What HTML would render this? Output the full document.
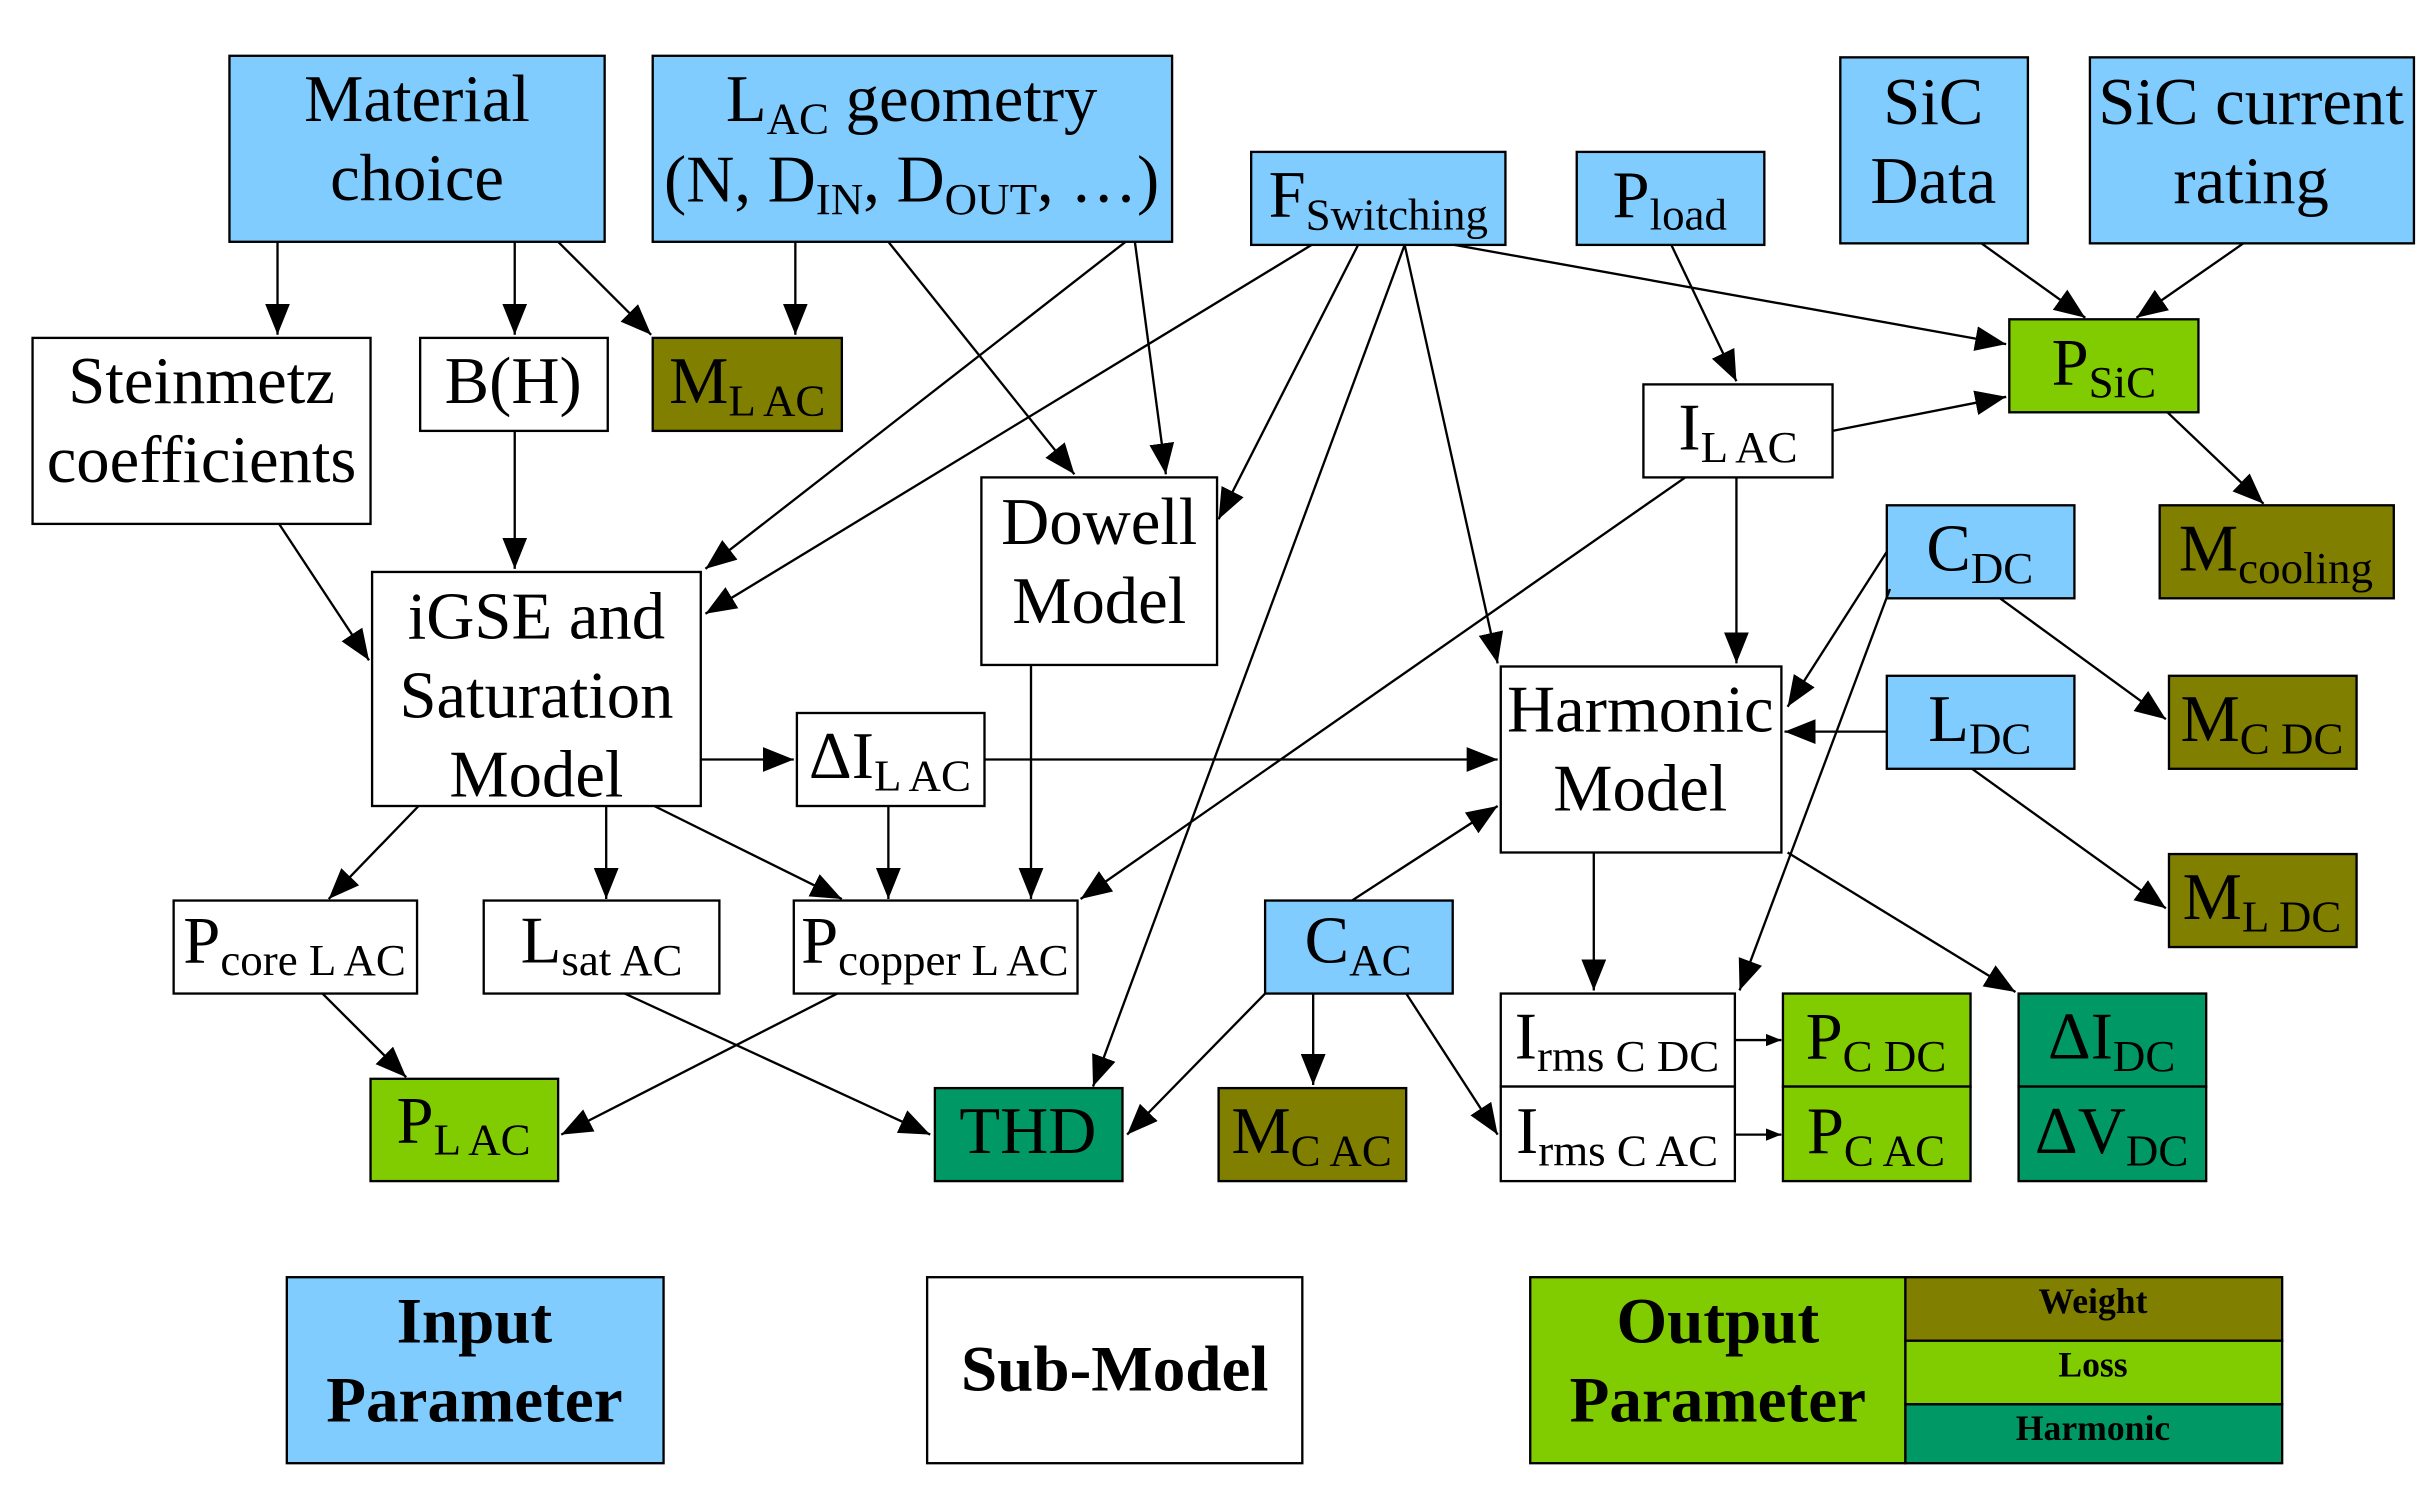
<!DOCTYPE html>
<html><head><meta charset="utf-8"><style>html,body{margin:0;padding:0;background:#fff}svg{display:block}</style></head><body>
<svg width="2431" height="1488" viewBox="0 0 1568 960" preserveAspectRatio="none" xmlns="http://www.w3.org/2000/svg" font-family="'Liberation Serif', serif">
<defs><marker id="a" markerWidth="10" markerHeight="8" refX="10" refY="4" orient="auto" markerUnits="userSpaceOnUse" viewBox="0 0 10 8"><path d="M0,0 L10,4 L0,8 z" fill="#000"/></marker>
<marker id="b" markerWidth="20" markerHeight="16" refX="20" refY="8" orient="auto" markerUnits="userSpaceOnUse" viewBox="0 0 20 16"><path d="M0,0 L20,8 L0,16 z" fill="#000"/></marker></defs>
<g stroke="#000" stroke-width="1.5">
<rect x="148" y="36" width="242" height="120" fill="#80CCFF"/>
<rect x="421" y="36" width="335" height="120" fill="#80CCFF"/>
<rect x="807" y="98" width="164" height="60" fill="#80CCFF"/>
<rect x="1017" y="98" width="121" height="60" fill="#80CCFF"/>
<rect x="1187" y="37" width="121" height="120" fill="#80CCFF"/>
<rect x="1348" y="37" width="209" height="120" fill="#80CCFF"/>
<rect x="21" y="218" width="218" height="120" fill="#fff"/>
<rect x="271" y="218" width="121" height="60" fill="#fff"/>
<rect x="421" y="218" width="122" height="60" fill="#807F00"/>
<rect x="1296" y="206" width="122" height="60" fill="#80CC00"/>
<rect x="1060" y="248" width="122" height="60" fill="#fff"/>
<rect x="1393" y="326" width="151" height="60" fill="#807F00"/>
<rect x="633" y="308" width="152" height="121" fill="#fff"/>
<rect x="240" y="369" width="212" height="151" fill="#fff"/>
<rect x="1217" y="326" width="121" height="60" fill="#80CCFF"/>
<rect x="968" y="430" width="181" height="120" fill="#fff"/>
<rect x="1217" y="436" width="121" height="60" fill="#80CCFF"/>
<rect x="1399" y="436" width="121" height="60" fill="#807F00"/>
<rect x="514" y="460" width="121" height="60" fill="#fff"/>
<rect x="1399" y="551" width="121" height="60" fill="#807F00"/>
<rect x="112" y="581" width="157" height="60" fill="#fff"/>
<rect x="312" y="581" width="152" height="60" fill="#fff"/>
<rect x="512" y="581" width="183" height="60" fill="#fff"/>
<rect x="816" y="581" width="121" height="60" fill="#80CCFF"/>
<rect x="968" y="641" width="151" height="60" fill="#fff"/>
<rect x="968" y="701" width="151" height="61" fill="#fff"/>
<rect x="1150" y="641" width="121" height="60" fill="#80CC00"/>
<rect x="1150" y="701" width="121" height="61" fill="#80CC00"/>
<rect x="1302" y="641" width="121" height="60" fill="#009966"/>
<rect x="1302" y="701" width="121" height="61" fill="#009966"/>
<rect x="239" y="696" width="121" height="66" fill="#80CC00"/>
<rect x="603" y="702" width="121" height="60" fill="#009966"/>
<rect x="786" y="702" width="121" height="60" fill="#807F00"/>
<rect x="185" y="824" width="243" height="120" fill="#80CCFF"/>
<rect x="598" y="824" width="242" height="120" fill="#fff"/>
<rect x="987" y="824" width="242" height="120" fill="#80CC00"/>
<rect x="1229" y="824" width="243" height="41" fill="#807F00"/>
<rect x="1229" y="865" width="243" height="41" fill="#80CC00"/>
<rect x="1229" y="906" width="243" height="38" fill="#009966"/>
</g>
<g stroke="#000" stroke-width="1.5" marker-end="url(#b)" fill="none">
<line x1="179" y1="156" x2="179" y2="216"/>
<line x1="332" y1="156" x2="332" y2="216"/>
<line x1="360" y1="156" x2="420" y2="216"/>
<line x1="513" y1="156" x2="513" y2="216"/>
<line x1="180" y1="338" x2="238" y2="426"/>
<line x1="332" y1="278" x2="332" y2="367"/>
<line x1="726" y1="156" x2="455" y2="367"/>
<line x1="573" y1="156" x2="693" y2="306"/>
<line x1="732" y1="156" x2="752" y2="306"/>
<line x1="846" y1="158" x2="455" y2="396"/>
<line x1="876" y1="158" x2="786" y2="335"/>
<line x1="906" y1="158" x2="705" y2="701"/>
<line x1="906" y1="158" x2="966" y2="428"/>
<line x1="938" y1="158" x2="1294" y2="222"/>
<line x1="1078" y1="158" x2="1120" y2="246"/>
<line x1="1278" y1="157" x2="1345" y2="205"/>
<line x1="1447" y1="157" x2="1378" y2="205"/>
<line x1="1182" y1="278" x2="1294" y2="256"/>
<line x1="1398" y1="266" x2="1460" y2="325"/>
<line x1="1087" y1="308" x2="697" y2="580"/>
<line x1="1120" y1="308" x2="1120" y2="428"/>
<line x1="1217" y1="356" x2="1153" y2="456"/>
<line x1="1219" y1="380" x2="1122" y2="639"/>
<line x1="1290" y1="386" x2="1397" y2="464"/>
<line x1="1217" y1="472" x2="1151" y2="472"/>
<line x1="1272" y1="496" x2="1397" y2="586"/>
<line x1="452" y1="490" x2="512" y2="490"/>
<line x1="635" y1="490" x2="966" y2="490"/>
<line x1="573" y1="520" x2="573" y2="580"/>
<line x1="665" y1="429" x2="665" y2="580"/>
<line x1="270" y1="520" x2="212" y2="580"/>
<line x1="391" y1="520" x2="391" y2="580"/>
<line x1="422" y1="520" x2="543" y2="580"/>
<line x1="208" y1="641" x2="262" y2="695"/>
<line x1="403" y1="641" x2="600" y2="732"/>
<line x1="540" y1="641" x2="362" y2="732"/>
<line x1="872" y1="581" x2="966" y2="520"/>
<line x1="1028" y1="550" x2="1028" y2="639"/>
<line x1="1153" y1="550" x2="1300" y2="640"/>
<line x1="847" y1="641" x2="847" y2="700"/>
<line x1="907" y1="641" x2="966" y2="732"/>
<line x1="816" y1="641" x2="727" y2="732"/>
</g>
<g stroke="#000" stroke-width="1.5" marker-end="url(#a)">
<line x1="1119" y1="671" x2="1149" y2="671"/>
<line x1="1119" y1="732" x2="1149" y2="732"/>
</g>
<g font-size="43" text-anchor="middle" fill="#000">
<text x="269" y="78">Material</text><text x="269" y="129">choice</text>
<text x="588" y="78">L<tspan font-size="29" dy="8">AC</tspan><tspan dy="-8"> geometry</tspan></text>
<text x="588" y="130">(N, D<tspan font-size="29" dy="8">IN</tspan><tspan dy="-8">, D</tspan><tspan font-size="29" dy="8">OUT</tspan><tspan dy="-8">, …)</tspan></text>
<text x="889" y="140">F<tspan font-size="29" dy="8">Switching</tspan></text>
<text x="1077" y="140">P<tspan font-size="29" dy="8">load</tspan></text>
<text x="1247" y="80">SiC</text><text x="1247" y="131">Data</text>
<text x="1452" y="80">SiC current</text><text x="1452" y="131">rating</text>
<text x="130" y="260">Steinmetz</text><text x="130" y="311">coefficients</text>
<text x="331" y="260">B(H)</text>
<text x="482" y="260">M<tspan font-size="29" dy="8">L AC</tspan></text>
<text x="1357" y="248">P<tspan font-size="29" dy="8">SiC</tspan></text>
<text x="1121" y="290">I<tspan font-size="29" dy="8">L AC</tspan></text>
<text x="1468" y="368">M<tspan font-size="29" dy="8">cooling</tspan></text>
<text x="709" y="351">Dowell</text><text x="709" y="402">Model</text>
<text x="346" y="412">iGSE and</text><text x="346" y="463">Saturation</text><text x="346" y="514">Model</text>
<text x="1277" y="368">C<tspan font-size="29" dy="8">DC</tspan></text>
<text x="1058" y="472">Harmonic</text><text x="1058" y="523">Model</text>
<text x="1277" y="478">L<tspan font-size="29" dy="8">DC</tspan></text>
<text x="1459" y="478">M<tspan font-size="29" dy="8">C DC</tspan></text>
<text x="574" y="502">ΔI<tspan font-size="29" dy="8">L AC</tspan></text>
<text x="1459" y="593">M<tspan font-size="29" dy="8">L DC</tspan></text>
<text x="190" y="621">P<tspan font-size="29" dy="8">core L AC</tspan></text>
<text x="388" y="621">L<tspan font-size="29" dy="8">sat AC</tspan></text>
<text x="603" y="621">P<tspan font-size="29" dy="8">copper L AC</tspan></text>
<text x="876" y="621">C<tspan font-size="29" dy="8">AC</tspan></text>
<text x="1043" y="683">I<tspan font-size="29" dy="8">rms C DC</tspan></text>
<text x="1043" y="744">I<tspan font-size="29" dy="8">rms C AC</tspan></text>
<text x="1210" y="683">P<tspan font-size="29" dy="8">C DC</tspan></text>
<text x="1210" y="744">P<tspan font-size="29" dy="8">C AC</tspan></text>
<text x="1362" y="683">ΔI<tspan font-size="29" dy="8">DC</tspan></text>
<text x="1362" y="744">ΔV<tspan font-size="29" dy="8">DC</tspan></text>
<text x="299" y="737">P<tspan font-size="29" dy="8">L AC</tspan></text>
<text x="663" y="744">THD</text>
<text x="846" y="744">M<tspan font-size="29" dy="8">C AC</tspan></text>
</g>
<g font-size="42" font-weight="bold" text-anchor="middle">
<text x="306" y="866">Input</text><text x="306" y="917">Parameter</text>
<text x="719" y="897">Sub-Model</text>
<text x="1108" y="866">Output</text><text x="1108" y="917">Parameter</text>
</g>
<g font-size="23" font-weight="bold" text-anchor="middle">
<text x="1350" y="847">Weight</text><text x="1350" y="888">Loss</text><text x="1350" y="929">Harmonic</text>
</g>
</svg>
</body></html>
